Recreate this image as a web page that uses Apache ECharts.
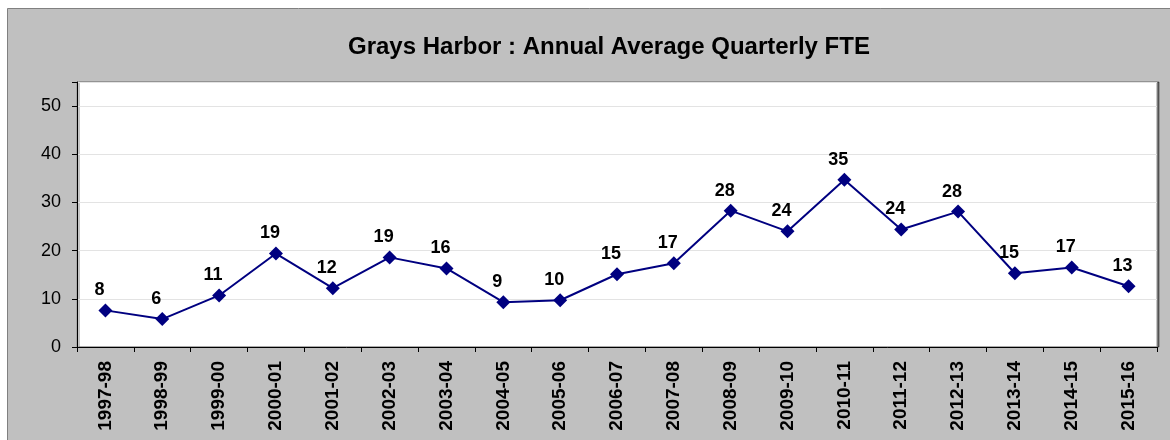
<!DOCTYPE html>
<html>
<head>
<meta charset="utf-8">
<script src="https://cdn.jsdelivr.net/npm/echarts@6/dist/echarts.min.js"></script>
<style>
  body { margin: 0; background: #fff; }
  #chart { width: 1170px; height: 440px; }
</style>
</head>
<body>
<div id="chart"></div>
<script>
  // annual average quarterly FTE
  var years = ['1997-98', '1998-99', '1999-00', '2000-01', '2001-02', '2002-03', '2003-04',
    '2004-05', '2005-06', '2006-07', '2007-08', '2008-09', '2009-10', '2010-11',
    '2011-12', '2012-13', '2013-14', '2014-15', '2015-16'];
  var fte = [7.6, 5.8, 10.7, 19.4, 12.2, 18.6, 16.3, 9.3, 9.7, 15.1, 17.4, 28.3, 24.0, 34.7,
    24.4, 28.1, 15.3, 16.5, 12.6];
  var yTicks = [0, 10, 20, 30, 40, 50];

  var font = 'Liberation Sans, Arial, sans-serif';
  var chart = echarts.init(document.getElementById('chart'));

  chart.setOption({
    backgroundColor: '#fff',
    animation: false,
    graphic: [
      {
        type: 'rect',
        z: -10,
        shape: { x: 7.5, y: 8.5, width: 1200, height: 500 },
        style: { fill: '#c0c0c0', stroke: '#808080', lineWidth: 1 }
      }
    ],
    title: {
      text: 'Grays Harbor : Annual Average Quarterly FTE',
      left: 343,
      top: 30,
      textStyle: { fontFamily: font, fontSize: 24, fontWeight: 'bold', color: '#000' }
    },
    grid: {
      left: 77, top: 82, right: 13, bottom: 93,
      show: true,
      backgroundColor: '#fff',
      borderColor: '#909090',
      borderWidth: 1,
      shadowColor: 'rgba(0,0,0,0.45)',
      shadowOffsetX: 2,
      shadowOffsetY: 0
    },
    xAxis: {
      type: 'category',
      data: years,
      boundaryGap: true,
      axisLine: { lineStyle: { color: '#000', width: 1 } },
      axisTick: { show: true, interval: 0, length: 5, lineStyle: { color: '#000' } },
      axisLabel: {
        interval: 0, rotate: 90, margin: 14,
        fontFamily: font, fontSize: 19, fontWeight: 'bold', color: '#000'
      },
      splitLine: { show: false }
    },
    yAxis: {
      type: 'value',
      min: 0,
      max: 55,
      interval: 10,
      axisLine: { show: true, lineStyle: { color: '#000', width: 1 } },
      axisTick: { show: true, length: 5, lineStyle: { color: '#000' } },
      axisLabel: {
        margin: 16,
        fontFamily: font, fontSize: 18, color: '#000',
        formatter: function (v) { return yTicks.indexOf(v) >= 0 ? String(v) : ''; }
      },
      splitLine: { show: true, lineStyle: { color: '#e3e3e3', width: 1 } }
    },
    series: [
      {
        type: 'line',
        data: fte,
        symbol: 'diamond',
        symbolSize: 14,
        lineStyle: { color: '#000080', width: 2 },
        itemStyle: { color: '#000080' },
        label: {
          show: true,
          position: 'top',
          offset: [-6, 1],
          fontFamily: font, fontSize: 18, fontWeight: 'bold', color: '#000',
          formatter: function (p) { return Math.round(p.value); }
        }
      }
    ]
  });
</script>
</body>
</html>
